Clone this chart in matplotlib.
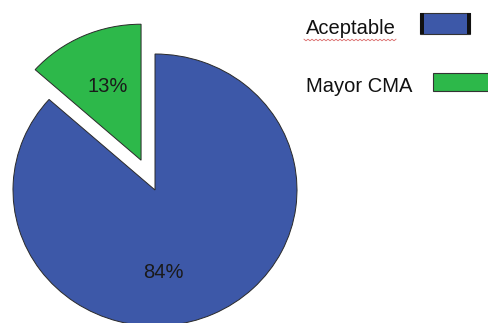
import matplotlib
matplotlib.use("Agg")
import matplotlib.pyplot as plt
import matplotlib.patches as mpatches
from matplotlib.lines import Line2D
import numpy as np

categories = ["Aceptable", "Mayor CMA"]
values = [84, 13]
pct_labels = ["84%", "13%"]
colors = ["#3D58A8", "#2DB84A"]

W, H = 488, 323
fig = plt.figure(figsize=(W / 100, H / 100), dpi=100)
ax = fig.add_axes([0, 0, 1, 1])

RX, RY = 142.0, 136.0
cx, cy = 155.0, H - 190.0

# draw pie: green first at 90 deg ccw, then blue
order = [1, 0]
wedges, _ = ax.pie([values[i] for i in order],
                   colors=[colors[i] for i in order],
                   explode=[0.24, 0.0], startangle=90, counterclock=True,
                   radius=1.0, center=(0, 0),
                   wedgeprops=dict(edgecolor="#2a2a2a", linewidth=0.7))
for w in wedges:
    w.set_clip_on(False)

ax.set_axis_off()
ax.set_aspect("auto")
ax.set_xlim(-cx / RX, (W - cx) / RX)
ax.set_ylim(-cy / RY, (H - cy) / RY)

font = ["Liberation Sans", "DejaVu Sans"]
# labels
ax.text((108 - cx) / RX, (H - 87 - cy) / RY, pct_labels[1], fontsize=14.5,
        family=font, ha="center", va="center", color="#1a1a1a")
ax.text((163 - cx) / RX, (H - 272 - cy) / RY, pct_labels[0], fontsize=14.5,
        family=font, ha="center", va="center", color="#1a1a1a")

# legend drawn in figure pixel coords
def px(x, y):
    return x / W, 1 - y / H

tx, ty = px(306, 28)
fig.text(tx, ty, categories[0], fontsize=14.5, family=font, ha="left", va="center", color="#111111")
tx, ty = px(306, 86)
fig.text(tx, ty, categories[1], fontsize=14.5, family=font, ha="left", va="center", color="#111111")

# spell-check style wavy underline under first legend entry
wx = np.arange(304, 398, 2.0)
wy = 40 + np.where(np.arange(len(wx)) % 2 == 0, -0.8, 0.8)
fig.lines.append(Line2D(wx / W, 1 - wy / H, transform=fig.transFigure,
                        color="#d04040", linewidth=0.6, alpha=0.8))

# legend swatches
bx0, by1 = px(420, 34)
fig.patches.append(mpatches.Rectangle((bx0, by1), 50 / W, 21 / H, transform=fig.transFigure,
                                      facecolor=colors[0], edgecolor="#333333", linewidth=0.8))
for xl in (420, 467):
    x0, y1 = px(xl, 34)
    fig.patches.append(mpatches.Rectangle((x0, y1), 3.5 / W, 21 / H, transform=fig.transFigure,
                                          facecolor="#111111", edgecolor="none"))
gx0, gy1 = px(433, 91)
fig.patches.append(mpatches.Rectangle((gx0, gy1), 60 / W, 18 / H, transform=fig.transFigure,
                                      facecolor=colors[1], edgecolor="#333333", linewidth=0.8,
                                      clip_on=False))

fig.savefig("out.png", dpi=100)
